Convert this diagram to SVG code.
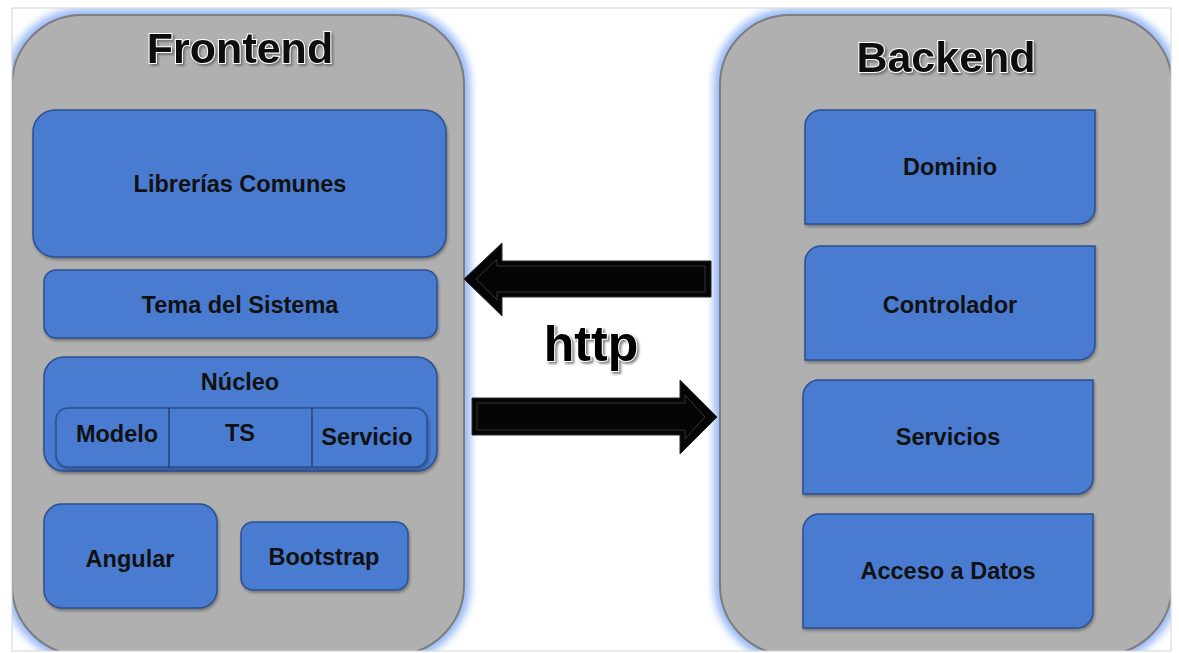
<svg xmlns="http://www.w3.org/2000/svg" width="1179" height="653" viewBox="0 0 1179 653">
<defs>
  <style>
    .panel{fill:#b0b0b0;stroke:#7d7d7d;stroke-width:2}
    .glow{fill:none;stroke:#8fb2f6;stroke-width:12;filter:url(#blur)}
    .box{fill:#4a7bd0;stroke:#2c4f8f;stroke-width:1.5;filter:url(#shadow)}
    .lbl{font-family:"Liberation Sans",Arial,sans-serif;font-weight:bold;font-size:23.5px;fill:#111;text-anchor:middle}
    .title{font-family:"Liberation Sans",Arial,sans-serif;font-weight:bold;font-size:43px;fill:#111;text-anchor:middle;stroke:#ffffff;stroke-width:2;paint-order:stroke;filter:url(#tshadow)}
    .http{font-family:"Liberation Sans",Arial,sans-serif;font-weight:bold;font-size:50px;fill:#000;text-anchor:middle;stroke:#ffffff;stroke-width:2;paint-order:stroke;filter:url(#tshadow)}
    .arrow{fill:#050505;stroke:#2a2a2a;stroke-width:1}
    .bevel{fill:none;stroke:#333;stroke-width:1}
    .div{stroke:#1f3560;stroke-width:1.2}
  </style>
  <filter id="blur" x="-10%" y="-10%" width="120%" height="120%">
    <feGaussianBlur stdDeviation="4"/>
  </filter>
  <filter id="shadow" x="-5%" y="-5%" width="115%" height="120%">
    <feDropShadow dx="1" dy="2" stdDeviation="1.5" flood-color="#000" flood-opacity="0.35"/>
  </filter>
  <filter id="tshadow" x="-10%" y="-20%" width="130%" height="150%">
    <feDropShadow dx="2" dy="2" stdDeviation="0.8" flood-color="#666" flood-opacity="0.8"/>
  </filter>
  <clipPath id="frame">
    <rect x="12" y="8" width="1159" height="643"/>
  </clipPath>
</defs>

<rect x="0" y="0" width="1179" height="653" fill="#ffffff"/>

<g clip-path="url(#frame)">
  <g id="frontend">
    <rect class="glow" x="12" y="15" width="452" height="640" rx="70"/>
    <rect class="panel" x="12" y="15" width="452" height="640" rx="70"/>
    <text class="title" x="240" y="63">Frontend</text>
  </g>
  <g id="backend">
    <rect class="glow" x="720" y="15" width="452" height="640" rx="70"/>
    <rect class="panel" x="720" y="15" width="452" height="640" rx="70"/>
    <text class="title" x="946" y="72">Backend</text>
  </g>
</g>

<g id="librerias">
  <rect class="box" x="33" y="110" width="413" height="147" rx="22"/>
  <text class="lbl" x="240" y="192">Librerías Comunes</text>
</g>
<g id="tema">
  <rect class="box" x="44" y="270" width="393" height="68" rx="12"/>
  <text class="lbl" x="240" y="313">Tema del Sistema</text>
</g>
<g id="nucleo">
  <rect class="box" x="44" y="357" width="393" height="114" rx="20"/>
  <text class="lbl" x="240" y="390">Núcleo</text>
  <rect class="box" x="56" y="408" width="371" height="59" rx="12"/>
  <line class="div" x1="169" y1="408" x2="169" y2="467"/>
  <line class="div" x1="312" y1="408" x2="312" y2="467"/>
  <text class="lbl" x="117" y="442">Modelo</text>
  <text class="lbl" x="240" y="441">TS</text>
  <text class="lbl" x="367" y="445">Servicio</text>
</g>
<g id="angular">
  <rect class="box" x="44" y="504" width="173" height="104" rx="18"/>
  <text class="lbl" x="130" y="567">Angular</text>
</g>
<g id="bootstrap">
  <rect class="box" x="241" y="522" width="167" height="68" rx="12"/>
  <text class="lbl" x="324" y="565">Bootstrap</text>
</g>

<g id="dominio">
  <path class="box" d="M821,110 H1095 V208 A16,16 0 0 1 1079,224 H805 V126 A16,16 0 0 1 821,110 Z"/>
  <text class="lbl" x="950" y="175">Dominio</text>
</g>
<g id="controlador">
  <path class="box" d="M821,246 H1095 V344 A16,16 0 0 1 1079,360 H805 V262 A16,16 0 0 1 821,246 Z"/>
  <text class="lbl" x="950" y="313">Controlador</text>
</g>
<g id="servicios">
  <path class="box" d="M819,380 H1093 V478 A16,16 0 0 1 1077,494 H803 V396 A16,16 0 0 1 819,380 Z"/>
  <text class="lbl" x="948" y="445">Servicios</text>
</g>
<g id="acceso">
  <path class="box" d="M819,514 H1093 V612 A16,16 0 0 1 1077,628 H803 V530 A16,16 0 0 1 819,514 Z"/>
  <text class="lbl" x="948" y="579">Acceso a Datos</text>
</g>

<g id="connectors">
  <polygon class="arrow" points="464,279 502,243 502,261 711,261 711,297 502,297 502,316"/>
  <polyline class="bevel" points="476,279 497,259 497,266 705,266 705,292 497,292 497,300 476,279"/>
  <polygon class="arrow" points="472,398 680,398 680,380 717,417 680,454 680,435 472,435"/>
  <polyline class="bevel" points="477,403 685,403 685,395 705,417 685,439 685,430 477,430 477,403"/>
  <text class="http" x="591" y="361">http</text>
</g>

<rect x="12" y="8" width="1159" height="643" fill="none" stroke="#d4d4d4" stroke-width="1"/>
</svg>
